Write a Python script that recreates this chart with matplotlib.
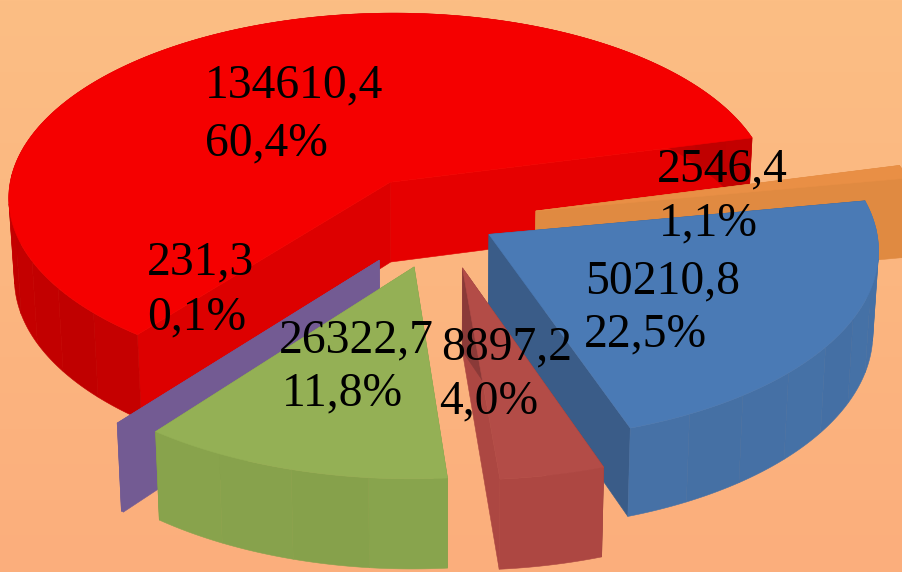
import numpy as np
import matplotlib
matplotlib.use("Agg")
import matplotlib.pyplot as plt
from matplotlib.patches import Polygon
from matplotlib.colors import to_rgb

# data (clockwise order, starting at the blue slice)
names = ["blue", "brick", "green", "purple", "red", "orange"]
values = [50210.8, 8897.2, 26322.7, 231.3, 134610.4, 2546.4]
pct_labels = ["22,5%", "4,0%", "11,8%", "0,1%", "60,4%", "1,1%"]

# style
explode = [0.14, 0.25, 0.25, 0.26, 0.25, 0.25]
top_col = ["#4A7AB5", "#B34C47", "#94B055", "#735B93", "#F50000", "#E98F45"]
side_col = ["#4570A5", "#AC4742", "#87A24C", "#735B93", "#C20000", "#E08A41"]
cut_a_col = ["#3A5C88", "#8A3A38", "#7E9846", "#735B93", "#DD0000", "#E08A41"]  # start edge
cut_b_col = ["#3A5C88", "#AC4742", "#7E9846", "#735B93", "#E60000", "#E08A41"]  # end edge
wall_amp = [0.008, 0.006, 0.01, 0.0, 0.015, 0.0]
label_pos = [((585, 293), (584, 346)), ((441, 359), (439, 413)), ((279, 352), (282, 405)),
             ((147, 274), (147, 329)), ((205, 97), (205, 155)), ((657, 181), (659, 235))]
START = 79.7
CX, CY, A, B, K = 442.0, 221.0, 386.0, 188.0, 0.0775
BAND_DEG = 9.0


def project(u, v):
    w = 1 + K * v
    return CX + A * u / w, CY - B * v / w


def drop(x, y):
    d = 78 + 0.035 * (y - 133)
    return CX + (x - CX) * 0.987, y + d


fig = plt.figure(figsize=(9.03, 5.72), dpi=100)
ax = fig.add_axes([0, 0, 1, 1])
ax.set_xlim(0, 903)
ax.set_ylim(572, 0)
ax.axis("off")

c1, c2 = np.array(to_rgb("#FCBE84")), np.array(to_rgb("#FBAE7C"))
grad = np.linspace(0, 1, 256)[:, None, None] * (c2 - c1) + c1
ax.imshow(grad, extent=(0, 903, 572, 0), aspect="auto", zorder=0)

total = sum(values)
fracs = [v / total for v in values]
angles = np.cumsum([0] + [f * 360 for f in fracs]) + START


def poly(pts, col, z):
    ax.add_patch(Polygon(pts, closed=True, facecolor=col, edgecolor=col, lw=0.4, zorder=z))


draw_order = [4, 5, 0, 1, 3, 2]
for zi, i in enumerate(draw_order):
    a0, a1 = angles[i], angles[i + 1]
    mid = np.radians((a0 + a1) / 2)
    ox, oy = explode[i] * np.sin(mid), explode[i] * np.cos(mid)
    th = np.radians(np.linspace(a0, a1, max(3, int((a1 - a0) * 2))))
    px, py = project(ox + np.sin(th), oy + np.cos(th))
    ax0, ay0 = project(ox, oy)
    bx, by = drop(px, py)
    abx, aby = drop(ax0, ay0)
    z = 2 + zi

    # cut faces
    poly([(ax0, ay0), (px[-1], py[-1]), (bx[-1], by[-1]), (abx, aby)], cut_b_col[i], z)
    poly([(ax0, ay0), (px[0], py[0]), (bx[0], by[0]), (abx, aby)], cut_a_col[i], z + 0.1)

    # outer wall in broad facets
    base = np.array(to_rgb(side_col[i]))
    n_bands = max(1, int((a1 - a0) / BAND_DEG))
    edges = np.linspace(0, len(th) - 1, n_bands + 1).astype(int)
    for b in range(n_bands):
        s, e = edges[b], edges[b + 1] + 1
        band = 1 + wall_amp[i] * np.cos(2.4 * b)
        col = np.clip(base * band, 0, 1)
        pts = list(zip(px[s:e], py[s:e])) + list(zip(bx[s:e][::-1], by[s:e][::-1]))
        poly(pts, col, z + 0.2)

    # top surface
    poly([(ax0, ay0)] + list(zip(px, py)), top_col[i], z + 0.3)

for v, pct, (p1, p2) in zip(values, pct_labels, label_pos):
    for s, (x, y) in ((f"{v:.1f}".replace(".", ","), p1), (pct, p2)):
        ax.text(x, y, s, family="Liberation Serif", fontsize=34.3, color="black",
                ha="left", va="baseline", zorder=20)

fig.savefig("out.png", dpi=100)
